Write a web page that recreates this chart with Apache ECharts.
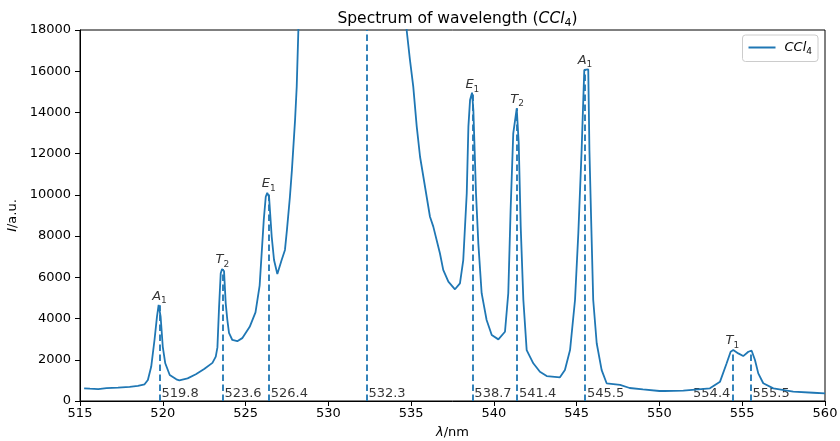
<!DOCTYPE html>
<html>
<head>
<meta charset="utf-8">
<script src="https://cdn.jsdelivr.net/npm/echarts@6/dist/echarts.min.js"></script>
<style>
  html, body { margin: 0; padding: 0; background: #fff; }
  #chart { width: 840px; height: 441px; }
</style>
</head>
<body>
<div id="chart"></div>
<script>
// spectrum trace (nm, a.u.)
var wavelength = [515.25, 515.6, 516.1, 516.6, 517.3, 518.0, 518.5, 518.9, 519.1, 519.3, 519.5, 519.65, 519.75, 519.8, 519.87, 520.0, 520.15, 520.42, 520.82, 521.0, 521.5, 522.0, 522.5, 523.0, 523.2, 523.3, 523.4, 523.5, 523.58, 523.7, 523.8, 523.9, 524.0, 524.2, 524.5, 524.8, 525.25, 525.6, 525.85, 526.1, 526.22, 526.31, 526.42, 526.58, 526.72, 526.92, 527.18, 527.38, 527.5, 527.68, 527.8, 527.99, 528.09, 528.19, 528.3, 528.6, 529.0, 530.0, 531.0, 532.3, 533.0, 534.0, 534.5, 534.73, 534.93, 535.13, 535.34, 535.54, 535.74, 536.14, 536.34, 536.74, 536.94, 537.25, 537.65, 537.95, 538.15, 538.36, 538.46, 538.56, 538.68, 538.76, 538.92, 539.06, 539.26, 539.56, 539.87, 540.27, 540.67, 540.87, 541.01, 541.17, 541.38, 541.5, 541.62, 541.78, 541.98, 542.38, 542.78, 543.19, 543.99, 544.29, 544.6, 544.9, 545.1, 545.3, 545.46, 545.55, 545.7, 545.77, 545.87, 546.0, 546.21, 546.51, 546.81, 547.62, 548.2, 549.0, 550.0, 550.1, 550.3, 551.44, 553.05, 553.66, 554.06, 554.3, 554.46, 554.76, 555.06, 555.37, 555.57, 555.77, 555.97, 556.27, 556.88, 558.08, 559.29, 560.0];
var intensity = [616, 600, 580, 620, 645, 690, 730, 810, 1020, 1660, 2960, 4090, 4660, 4600, 4090, 2630, 1830, 1260, 1050, 1000, 1100, 1300, 1550, 1850, 2150, 2600, 4560, 6200, 6400, 6300, 4750, 3930, 3300, 2960, 2900, 3050, 3600, 4300, 5600, 8780, 9910, 10100, 9900, 7970, 6840, 6160, 6840, 7330, 8300, 9910, 11200, 13630, 15250, 18000, 20500, 25000, 31000, 45000, 60000, 70000, 58000, 32000, 21500, 18000, 16550, 15250, 13310, 11850, 10880, 8940, 8460, 7170, 6360, 5790, 5420, 5710, 6840, 10070, 13310, 14600, 14960, 14120, 10070, 7650, 5230, 3930, 3200, 2990, 3360, 5240, 9270, 12990, 14200, 12500, 8460, 4900, 2470, 1830, 1420, 1210, 1150, 1500, 2470, 4900, 8140, 12180, 16060, 16090, 16090, 12180, 8940, 4900, 2800, 1500, 860, 780, 630, 560, 485, 560, 485, 500, 615, 940, 1830, 2390, 2470, 2310, 2180, 2390, 2440, 1990, 1340, 860, 615, 450, 400, 370];

// marked lines (dashed) and their heights
var lineX = [519.8, 523.6, 526.4, 532.3, 538.7, 541.4, 545.5, 554.4, 555.5];
var lineTop = [4650, 6400, 10100, 18000, 14900, 14200, 16100, 2480, 2440];
var lineText = ['519.8', '523.6', '526.4', '532.3', '538.7', '541.4', '545.5', '554.4', '555.5'];

// mode labels above the peaks
var peakX = [519.8, 523.6, 526.4, 538.7, 541.4, 545.5, 554.4];
var peakY = [4650, 6400, 10100, 14900, 14200, 16100, 2480];
var peakLetter = ['A', 'T', 'E', 'E', 'T', 'A', 'T'];
var peakSub = ['1', '2', '1', '1', '2', '1', '1'];

var xTicks = [515, 560, 5];
var yTicks = [0, 18000, 2000];

var blue = '#1f77b4';
var font = 'DejaVu Sans';

var specData = wavelength.map(function (x, i) { return [x, intensity[i]]; });

var markData = lineX.map(function (x, i) {
  return [{ coord: [x, 0] }, { coord: [x, lineTop[i]] }];
});

var bottomData = lineX.map(function (x, i) {
  var item = { value: [x, 0], label: { position: [2, -14], align: 'left', verticalAlign: 'top' } };
  if (lineText[i] === '554.4') {
    item.label = { position: [-2, -14], align: 'right', verticalAlign: 'top' };
  }
  return item;
});

var peakData = peakX.map(function (x, i) { return [x, peakY[i]]; });

var richSub = {
  i: { fontFamily: font, fontStyle: 'italic', fontWeight: 'normal', fontSize: 13, color: '#000', lineHeight: 18 },
  s: { fontFamily: font, fontWeight: 'normal', fontSize: 9, color: '#000', verticalAlign: 'bottom' }
};

var chart = echarts.init(document.getElementById('chart'), null, { renderer: 'canvas' });
var option = {
  animation: false,
  backgroundColor: '#fff',
  title: {
    text: '{n|Spectrum of wavelength (}{i|CCl}{s|4}{n|)}',
    left: 452.5,
    top: 4,
    textAlign: 'center',
    textStyle: {
      fontWeight: 'normal',
      rich: {
        n: { fontFamily: font, fontWeight: 'normal', fontSize: 15.5, color: '#000', lineHeight: 20 },
        i: { fontFamily: font, fontWeight: 'normal', fontStyle: 'italic', fontSize: 15.5, color: '#000', lineHeight: 20 },
        s: { fontFamily: font, fontWeight: 'normal', fontSize: 11, color: '#000', verticalAlign: 'bottom' }
      }
    }
  },
  legend: {
    data: [{ name: 'CCl4', icon: 'rect' }],
    right: 22,
    top: 35,
    itemWidth: 27,
    itemHeight: 2,
    itemGap: 8,
    padding: [6, 6, 5, 6],
    borderColor: '#ccc',
    borderWidth: 1,
    borderRadius: 3,
    backgroundColor: '#fff',
    formatter: function () { return '{g|}{i|CCl}{s|4}'; },
    textStyle: { color: '#000', rich: Object.assign({ g: { width: 4 } }, richSub) }
  },
  grid: {
    left: 80,
    right: 15,
    top: 30,
    bottom: 40,
    containLabel: false,
    outerBoundsMode: 'none',
    show: true,
    borderColor: '#000',
    borderWidth: 1
  },
  xAxis: {
    type: 'value',
    min: xTicks[0],
    max: xTicks[1],
    interval: xTicks[2],
    name: '{i|λ}{n|/nm}',
    nameLocation: 'middle',
    nameGap: 25,
    nameTextStyle: {
      rich: {
        i: { fontFamily: font, fontStyle: 'italic', fontSize: 13, color: '#000' },
        n: { fontFamily: font, fontSize: 13, color: '#000' }
      }
    },
    axisLine: { lineStyle: { color: '#000', width: 1 } },
    axisTick: { show: true, length: 5, lineStyle: { color: '#000' } },
    axisLabel: { fontFamily: font, fontSize: 13, color: '#000', margin: 6,
      formatter: function (v) { return String(v); } },
    splitLine: { show: false }
  },
  yAxis: {
    type: 'value',
    min: yTicks[0],
    max: yTicks[1],
    interval: yTicks[2],
    name: '{i|I}{n|/a.u.}',
    nameLocation: 'middle',
    nameRotate: 90,
    nameGap: 58,
    nameTextStyle: {
      rich: {
        i: { fontFamily: font, fontStyle: 'italic', fontSize: 13, color: '#000' },
        n: { fontFamily: font, fontSize: 13, color: '#000' }
      }
    },
    axisLine: { show: true, lineStyle: { color: '#000', width: 1 } },
    axisTick: { show: true, length: 5, lineStyle: { color: '#000' } },
    axisLabel: { fontFamily: font, fontSize: 13, color: '#000', margin: 9,
      formatter: function (v) { return String(v); } },
    splitLine: { show: false }
  },
  series: [
    {
      name: 'CCl4',
      type: 'line',
      data: specData,
      symbol: 'none',
      clip: true,
      lineStyle: { color: blue, width: 1.8 },
      itemStyle: { color: blue },
      markLine: {
        silent: true,
        symbol: ['none', 'none'],
        label: { show: false },
        lineStyle: { color: blue, width: 1.8, type: [6.5, 3.5] },
        data: markData
      }
    },
    {
      name: 'ticks',
      type: 'scatter',
      data: bottomData,
      symbolSize: 0,
      silent: true,
      label: {
        show: true,
        fontFamily: font,
        fontSize: 13,
        color: '#000',
        formatter: function (p) { return lineText[p.dataIndex]; }
      }
    },
    {
      name: 'modes',
      type: 'scatter',
      data: peakData,
      symbolSize: 0,
      silent: true,
      label: {
        show: true,
        position: 'top',
        distance: 0,
        color: '#000',
        formatter: function (p) {
          return '{i|' + peakLetter[p.dataIndex] + '}{s|' + peakSub[p.dataIndex] + '}';
        },
        rich: richSub
      }
    }
  ]
};
chart.setOption(option);
</script>
</body>
</html>
